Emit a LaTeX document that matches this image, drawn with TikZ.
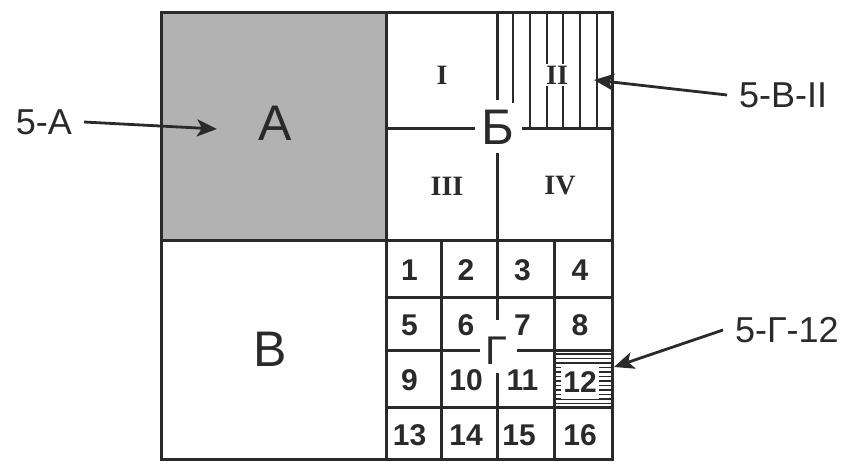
\documentclass[tikz,border=0pt]{standalone}
\usepackage{fontspec}
\setmainfont{Liberation Sans}
\newfontfamily\serifb{Liberation Serif}
\usetikzlibrary{arrows.meta}
\definecolor{ink}{HTML}{2A2A2A}
\definecolor{fillA}{RGB}{178,178,178}
\begin{document}
\begin{tikzpicture}[x=1pt,y=-1pt,
  ln/.style={line width=3pt, draw=ink},
  hl/.style={line width=2.2pt, draw=ink},
  hh/.style={line width=1.4pt, draw=ink},
  big/.style={font=\fontsize{50}{50}\selectfont, text=ink, inner sep=0pt},
  gam/.style={font=\fontsize{40}{40}\selectfont, text=ink, inner sep=0pt},
  rom/.style={font=\serifb\bfseries\fontsize{28}{28}\selectfont, text=ink, inner sep=0pt},
  num/.style={font=\bfseries\fontsize{30}{30}\selectfont, text=ink, inner sep=0pt},
  lab/.style={font=\fontsize{36}{36}\selectfont, text=ink, inner xsep=12pt, inner ysep=0pt},
  arr/.style={line width=2.8pt, draw=ink, -{Stealth[length=20pt,width=17pt,inset=5pt]}}
]
\useasboundingbox (0,0) rectangle (850,461);
% quadrant A
\fill[fillA] (161,12) rectangle (386,240);
% hatching of II
\foreach \x in {530,547,563,580,597} \draw[hl] (\x,12) -- (\x,128);
\draw[hl] (513,12) -- (513,103);
% hatching of 12
\foreach \k in {0,...,11} \draw[hh] (554,354+4.5*\k) -- (612,354+4.5*\k);
% main frame
\draw[ln] (161,12) rectangle (612,459);
\draw[ln] (386,12) -- (386,459);
\draw[ln] (161,240) -- (612,240);
% quadrant Б
\draw[ln] (386,128) -- (475,128);
\draw[ln] (522,128) -- (612,128);
\draw[ln] (497,12) -- (497,100);
\draw[ln] (497,153) -- (497,240);
% Г grid
\draw[ln] (441,240) -- (441,459);
\draw[ln] (554,240) -- (554,459);
\draw[ln] (497,240) -- (497,320);
\draw[ln] (497,373) -- (497,459);
\draw[ln] (386,297) -- (612,297);
\draw[ln] (386,350) -- (480,350);
\draw[ln] (517,350) -- (612,350);
\draw[ln] (386,407) -- (612,407);
% big letters
\node[big] (qA) at (275,123) {А};
\node[big] (qB) at (498,127) {Б};
\node[big] (qV) at (270,349) {В};
\node[gam] (qG) at (496,350.5) {Г};
% roman numerals
\node[rom] (r1) at (442,75) {I};
\node[rom, fill=white, inner sep=1.5pt] (r2) at (557,75) {II};
\node[rom] (r3) at (447,186) {III};
\node[rom] (r4) at (560,186) {IV};
% numbers
\node[num] (n1) at (409.5,270.5) {1};
\node[num] (n2) at (466,270.5) {2};
\node[num] (n3) at (522.5,270.5) {3};
\node[num] (n4) at (580,270.5) {4};
\node[num] (n5) at (409.5,325.5) {5};
\node[num] (n6) at (466,325.5) {6};
\node[num] (n7) at (522.5,325.5) {7};
\node[num] (n8) at (580,325.5) {8};
\node[num] (n9) at (409.5,380.5) {9};
\node[num] (n10) at (466,380.5) {10};
\node[num] (n11) at (522.5,380.5) {11};
\node[num, fill=white, minimum width=38pt, minimum height=33pt] (n12) at (580,382) {12};
\node[num] (n13) at (409.5,435) {13};
\node[num] (n14) at (466,435) {14};
\node[num] (n15) at (519,435) {15};
\node[num] (n16) at (580,435) {16};
% outside labels and arrows
\node[lab, anchor=east] (l5a) at (84,122) {5-А};
\node[lab, anchor=west] (l5b) at (727,95) {5-В-II};
\node[lab, anchor=west] (l5g) at (723,330) {5-Г-12};
\coordinate (tA) at (217,129);
\coordinate (tB) at (594,80);
\coordinate (tG) at (614,367);
\draw[arr] (l5a.east) -- (tA);
\draw[arr] (l5b.west) -- (tB);
\draw[arr] (l5g.west) -- (tG);
\end{tikzpicture}
\end{document}
